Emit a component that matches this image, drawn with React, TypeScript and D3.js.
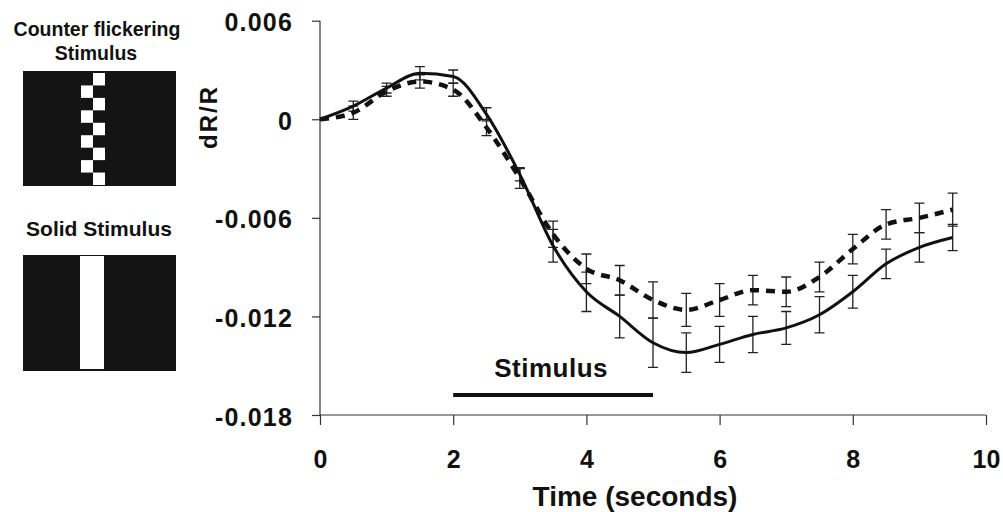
import React, { useRef, useEffect } from 'react'
import * as d3 from 'd3'

// time points (s) and mean dR/R for the two stimulus conditions
const times = [0, 0.5, 1, 1.5, 2, 2.5, 3, 3.5, 4, 4.5, 5, 5.5, 6, 6.5, 7, 7.5, 8, 8.5, 9, 9.5]
const solidMean = [0, 0.0008, 0.0019, 0.0028, 0.0026, 0.0003, -0.00335, -0.0077, -0.0105, -0.012, -0.0136, -0.0142, -0.0137, -0.0131, -0.0127, -0.0119, -0.0105, -0.0088, -0.0078, -0.0072]
const solidErr = [0, 0.0003, 0.0003, 0.0004, 0.0004, 0.0004, 0.0004, 0.001, 0.0012, 0.0013, 0.0015, 0.0012, 0.0011, 0.0011, 0.001, 0.0011, 0.001, 0.0009, 0.0009, 0.0008]
const flickerMean = [0, 0.0004, 0.0017, 0.0023, 0.0018, -0.0005, -0.0036, -0.007, -0.0091, -0.0098, -0.011, -0.0116, -0.011, -0.0104, -0.0105, -0.0096, -0.0079, -0.0064, -0.006, -0.0055]
const flickerErr = [0, 0.0004, 0.0003, 0.0004, 0.0004, 0.0005, 0.0006, 0.0008, 0.0009, 0.0009, 0.0011, 0.001, 0.001, 0.0009, 0.0009, 0.0009, 0.0009, 0.0009, 0.0009, 0.001]

const xTicks = [0, 2, 4, 6, 8, 10]
const yTicks = [0.006, 0, -0.006, -0.012, -0.018]
const yTickLabels = ['0.006', '0', '-0.006', '-0.012', '-0.018']
const stimulusWindow = [2, 5]
const checkerRows = 9

const FONT = '"Liberation Sans", Arial, sans-serif'

export default function App() {
  const svgRef = useRef<SVGSVGElement>(null)

  useEffect(() => {
    if (!svgRef.current) return
    const svg = d3.select(svgRef.current)
    svg.selectAll('*').remove()

    const x = d3.scaleLinear().domain([0, 10]).range([320, 986])
    const y = d3.scaleLinear().domain([-0.018, 0.006]).range([415, 20.7])

    // left panel: stimulus pictograms
    const left = svg.append('g').attr('font-family', FONT).attr('font-weight', 'bold').attr('fill', '#111')
    left.append('text').attr('x', 97).attr('y', 36).attr('text-anchor', 'middle').attr('font-size', 19.5)
      .text('Counter flickering')
    left.append('text').attr('x', 96).attr('y', 60).attr('text-anchor', 'middle').attr('font-size', 19.5)
      .text('Stimulus')
    left.append('rect').attr('x', 23).attr('y', 71).attr('width', 153).attr('height', 115).attr('fill', '#141414')
    const rows = d3.scaleBand().domain(d3.range(checkerRows).map(String)).range([73, 185])
    left.selectAll('rect.chk').data(d3.range(checkerRows)).enter().append('rect')
      .attr('class', 'chk')
      .attr('x', d => (d % 2 === 0 ? 93 : 81))
      .attr('y', d => rows(String(d)) as number)
      .attr('width', 12)
      .attr('height', rows.bandwidth())
      .attr('fill', '#fff')

    left.append('text').attr('x', 99).attr('y', 236).attr('text-anchor', 'middle').attr('font-size', 21)
      .text('Solid Stimulus')
    left.append('rect').attr('x', 23).attr('y', 255).attr('width', 153).attr('height', 116).attr('fill', '#141414')
    left.append('rect').attr('x', 80).attr('y', 256).attr('width', 24).attr('height', 113).attr('fill', '#fff')

    // axes
    const yAxis = svg.append('g').attr('transform', `translate(${x(0)},0)`)
      .call(d3.axisLeft(y).tickValues(yTicks).tickSize(8).tickPadding(19)
        .tickFormat((d, i) => yTickLabels[i]))
    yAxis.select('.domain').attr('stroke', '#333').attr('stroke-width', 1.2).attr('d', `M0,${y(0.006)}V${y(-0.018)}`)
    yAxis.selectAll('line').attr('stroke', '#333').attr('stroke-width', 1.2)
    yAxis.selectAll('text').attr('font-family', FONT).attr('font-weight', 'bold').attr('font-size', 25)
      .attr('letter-spacing', 1.2).attr('fill', '#111').attr('dy', '0.4em')

    const xAxis = svg.append('g').attr('transform', `translate(0,${y(-0.018)})`)
      .call(d3.axisBottom(x).tickValues(xTicks).tickSize(10).tickPadding(25).tickFormat(d3.format('d')))
    xAxis.select('.domain').attr('stroke', '#333').attr('stroke-width', 1.2).attr('d', `M${x(0)},0H${x(10)}`)
    xAxis.selectAll('line').attr('stroke', '#333').attr('stroke-width', 1.2)
    xAxis.selectAll('text').attr('font-family', FONT).attr('font-weight', 'bold').attr('font-size', 25)
      .attr('fill', '#111')

    svg.append('text').attr('x', 635).attr('y', 506).attr('text-anchor', 'middle')
      .attr('font-family', FONT).attr('font-weight', 'bold').attr('font-size', 28).attr('fill', '#111')
      .text('Time (seconds)')
    svg.append('text').attr('transform', 'translate(217,117) rotate(-90)').attr('text-anchor', 'middle')
      .attr('font-family', FONT).attr('font-weight', 'bold').attr('font-size', 24).attr('letter-spacing', 2)
      .attr('fill', '#111').text('dR/R')

    // error bars
    const drawErr = (mean: number[], err: number[]) => {
      const pts = times.map((t, i) => ({ t, m: mean[i], e: err[i] })).filter(d => d.e > 0)
      const g = svg.append('g').attr('stroke', '#222').attr('stroke-width', 1.3).attr('fill', 'none')
      g.selectAll('path').data(pts).enter().append('path')
        .attr('d', d => {
          const cx = x(d.t), y1 = y(d.m + d.e), y2 = y(d.m - d.e)
          return `M${cx},${y1}V${y2}M${cx - 5},${y1}H${cx + 5}M${cx - 5},${y2}H${cx + 5}`
        })
    }
    drawErr(flickerMean, flickerErr)
    drawErr(solidMean, solidErr)

    const line = (vals: number[]) => d3.line<number>()
      .x((_, i) => x(times[i]))
      .y(d => y(d))
      .curve(d3.curveMonotoneX)(vals)

    svg.append('path').attr('d', line(flickerMean)).attr('fill', 'none').attr('stroke', '#111')
      .attr('stroke-width', 4.5).attr('stroke-dasharray', '9,7')
    svg.append('path').attr('d', line(solidMean)).attr('fill', 'none').attr('stroke', '#111')
      .attr('stroke-width', 3)

    // stimulus window marker
    svg.append('line').attr('x1', x(stimulusWindow[0])).attr('x2', x(stimulusWindow[1]))
      .attr('y1', 395).attr('y2', 395).attr('stroke', '#111').attr('stroke-width', 4)
    svg.append('text').attr('x', x((stimulusWindow[0] + stimulusWindow[1]) / 2) - 2).attr('y', 377)
      .attr('text-anchor', 'middle').attr('font-family', FONT).attr('font-weight', 'bold')
      .attr('font-size', 26).attr('letter-spacing', 0.5).attr('fill', '#111').text('Stimulus')
  }, [])

  return (
    <svg ref={svgRef} width={1003} height={512}
      style={{ position: 'absolute', left: 0, top: 0, background: '#fff' }} />
  )
}
